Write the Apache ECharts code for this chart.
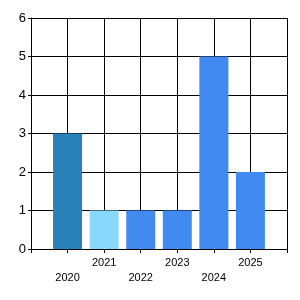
<!DOCTYPE html>
<html>
<head>
<meta charset="utf-8">
<script src="https://cdn.jsdelivr.net/npm/echarts@6/dist/echarts.min.js"></script>
<style>
  html, body { margin: 0; padding: 0; background: #fff; }
  #chart { width: 300px; height: 300px; }
</style>
</head>
<body>
<div id="chart"></div>
<script>
// padded with empty slots so bars sit on the grid lines
const years = ['', '2020', '2021', '2022', '2023', '2024', '2025', ''];
const counts = [null, 3, 1, 1, 1, 5, 2, null];
const barColors = [null, '#2a80b9', '#88d8fe', '#418af0', '#418af0', '#418af0', '#418af0', null];
const yTicks = [0, 1, 2, 3, 4, 5, 6];

const chart = echarts.init(document.getElementById('chart'));
chart.setOption({
  animation: false,
  grid: { left: 31, right: 13, top: 18, bottom: 51 },
  xAxis: {
    type: 'category',
    data: years,
    boundaryGap: false,
    axisLine: { lineStyle: { color: '#000', width: 1 } },
    axisTick: { show: true, interval: 0, length: 4, lineStyle: { color: '#000' } },
    splitLine: { show: true, interval: 0, lineStyle: { color: '#000', width: 1 } },
    axisLabel: {
      interval: 0,
      margin: 6,
      color: '#000',
      fontFamily: 'Liberation Sans',
      fontSize: 11,
      lineHeight: 15,
      formatter: (v, i) => (i % 2 === 1 ? '\n' + v : v),
    },
  },
  yAxis: {
    type: 'value',
    min: yTicks[0],
    max: yTicks[yTicks.length - 1],
    interval: 1,
    axisLine: { show: true, lineStyle: { color: '#000', width: 1 } },
    axisTick: { show: true, length: 3, lineStyle: { color: '#000' } },
    splitLine: { show: true, lineStyle: { color: '#000', width: 1 } },
    axisLabel: { color: '#000', fontFamily: 'Liberation Sans', fontSize: 13, margin: 5 },
  },
  series: [{
    type: 'bar',
    barWidth: 29,
    data: counts.map((v, i) => (v === null ? null : { value: v, itemStyle: { color: barColors[i] } })),
  }],
});
</script>
</body>
</html>
